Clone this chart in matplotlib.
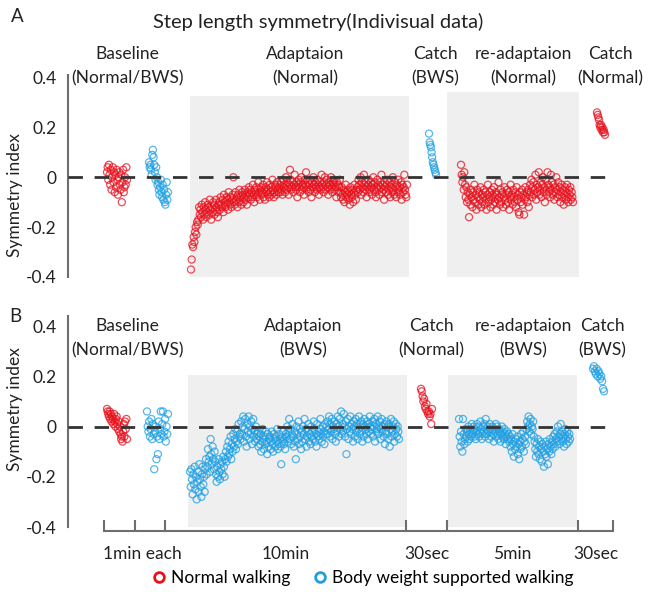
import numpy as np
import matplotlib.pyplot as plt
from matplotlib.lines import Line2D

plt.rcParams['font.family'] = ['Lato', 'DejaVu Sans']

W, H = 648, 594
RED = '#e8101c'
BLUE = '#1e9fe3'
GREY_BG = '#efefef'

# symmetry index per stride (in hundredths)
# ---- panel A: adaptation to normal walking ----
a_base_normal = [2, 4, -1, 5, 1, -3, 3, -5, 0, 4, -2, 2, -6, 1, -4, 3, -1, -7, 0, 2,
                 -3, -5, 1, -10, -2, 3, -6, -4, 0, -3, 4, -1]
a_base_bws = [6, 4, 5, 3, 1, 9, 11, 8, 5, 2, -1, 4, 0, -3, -2, -5, -7, -4, -1, -6,
              -8, -3, -9, -5, -10, -11, -7, -2, -9, -6]
a_adapt = [-37, -33, -27, -28, -24, -26, -22, -20, -23, -18, -19, -17,
           -12, -15, -13, -16, -11, -14, -17, -12, -15, -10, -13, -16, -14, -11, -12,
           -15, -9, -13, -17, -12, -14, -10, -11, -15, -13, -9, -12, -14, -16, -11,
           -10, -13, -8, -11, -12, -9, -14, -7, -10, -12, -11, -8, -9, -13, -6, -10,
           -11, -8, -12, -9, -7, 0, -10, -11, -6, -9, -8, -12, -7, -10, -5, -9, -8,
           -11, -6, -7, -10, -8, -5, -9, -7, -11, -6, -8, -4,
           -7, -5, -9, -6, -8, -3, -7, -10, -5, -6, -4, -8, -7, -2, -6, -9, -5, -4,
           -7, -6, -3, -8, -5, -9, -4, -6, -2, -7, -5, -8, -3, -6, -4, -7, -1, -5,
           -8, -6, -3, -4, -7, -2, -5, -6, -4,
           -3, -6, -2, -5, -7, -1, -4, -3, -6, 0, -5, -2, -4, -7, -3, 3, -1, -5, -4,
           -2, -6, -3, 1, -4, -5, -2, -8, -3, -1, -4, -6, -2, 0, -5, -3, -4, -7, -1,
           -3, 2, -5, -4, -2, -6, -3, -1, -5, -8, -2, -4, 0, -3, -6, -2, -4, -5, -1,
           -3, -7, -4,
           -2, -5, 1, -3, -4, -6, -2, 0, -5, -3, -1, -4, -7, -2, -3, -5, 0, -4, -6,
           -2, -3, -1, -5, -4, -8, -2, -3, -6, -4, -1,
           -6, -8, -4, -7, -9, -5, -10, -6, -3, -8, -7, -5, -9, -6, -11, -4, -7, -8,
           -5, -10, -6, -3, -7, -9, -5,
           -4, -6, -1, -3, -5, 0, -7, -2, -4, -6, 1, -3, -5, -2, -8, -4, -3, -1, -6,
           -5, -2, -4, -7, -3, 0, -5, -2, -6, -8, -4, -1, -3, -5, -7, -2, -4, 1, -6,
           -3, -5, -9, -2, -4, -6, -3, -1, -7, -5, -2, -8, -4, -3, -6, 0, -5, -7, -2,
           -4, -8, -3, -6, -1, -5, -4, -7, -2, -9, -3, -6, -4, 1, -5, -7, -8, -3]
a_catch = [17.5, 14, 13, 12, 10, 8, 6, 5, 4, 3, 2, 1]
a_readapt = [5, 1, -2, 0, -5, 2, -3, -8,
             -4, -10, -6, -9, -16, -7, -11, -5, -8, -12, -6, -9, -3, -10, -7, -13, -5,
             -8, -11, -6, -9, -4, -12, -7, -10, -8, -5, -11, -6, -9, -13, -7, -3, -10,
             -8, -6, -12, -9, -5, -7, -11, -4, -8, -10, -6, -13, -7, -9, -2, -8, -11,
             -5, -10, -7, -6, -12, -8, -4, -9, -11, -7, -5, -10, -6, -13, -8, -3, -9,
             -7, -11, -5, -8, -10, -6, -12, -4, -9, -7, -14, -15, -6, -10, -8, -5, -11,
             -7, -15, -9, -4, -8, -6, -10, -5, -12, -7,
             -3, -6, -1, -8, -4, -2, -7, -5, 1, -9, -3, -6, -4, 2, -7, -5, -2, -8, -3,
             0, -6, -4, -10, -1, -5, -7, 2, -3, -6, -4, -8, 1, -5, -2, -7, -3, -9, -4,
             -6, 0, -5, -8, -2, -7, -4, -10, -6, -3, -8, -5, -11, -7, -4, -9, -6, -3,
             -8, -10, -5, -7, -4, -9, -6, -8, -10]
a_catch2 = [26, 25, 24, 23, 21, 20, 21, 19, 20, 18, 19, 18, 17]

# ---- panel B: adaptation to body weight supported walking ----
b_base_normal = [7, 6, 5, 4, 6, 3, 5, 2, 4, 3, 1, 5, 2, 0, 3, 4, 1, -1, 2, -2,
                 0, -3, -5, -4, -6, -2, 1, -4, 2, -1, 3, -5]
b_base_bws = [6, 0, -2, 2, -4, -1, 3, -5, 1, -3, -17, -2, 0, -13, -4, -11, 2, -5,
              -1, 6, -3, 1, 6, -4, -2, 3, -6, 0, -3, 5]
b_adapt = [-18, -24, -17, -21, -27, -19, -23, -16, -25, -20, -29, -22, -18, -26, -15,
           -21, -24, -28, -19, -16, -23, -20, -26, -17,
           -13, -19, -16, -9, -14, -12, -18, -5, -11, -15, -8, -13, -17, -10, -14,
           -19, -22, -16, -20, -13, -18, -21, -15, -17, -14, -19, -12, -16, -20, -13,
           -10, -14, -8, -12, -6, -11, -9, -4, -13, -7, -10, -3, -8, -5, -1, -9, -6,
           -2, -7, 1, -4, -3, -5,
           2, -3, 0, 4, -6, -1, 3, -4, -8, 1, -2, 4, -5, 0, -3, 2, -7, -1, 3, -4, -2,
           -6, 0, -3,
           -5, -2, -8, -4, -7, -3, -10, -6, -1, -5, -9, -4, -7, -2, -6, -11, -3, -8,
           -5, -4, -9, -6, -2, -7, -10, -3, -5, -8, -4, -6, -1, -9, -7, -3, -5, -8,
           -15, -4, -6, -2, -7, -5, -9, -3,
           -4, 0, -6, -2, 3, -5, -1, -7, -3, 1, -4, -8, -2, -6, -13, 0, -3, -5, 2, -7,
           -1, -4, -9, -2, -6, 0, -3, 3, -5, -1, -8, -4, -2, 1, -6, -3, -7, 0, -4, -2,
           -5, 2, -1, -6, -3, -8, 1, -4, -2, -5, -1, 3, -3, -6, 0, -4, -2, -7, 1, -3,
           0, -3, 2, -1, 4, -4, 1, -2, 3, -5, 0, -1, 2, -3, -6, 1, -2, 4, 0, -4, 3, -1,
           6, -3, 1, -2, 5, 0, -4, 2, -11, -1, 3, -5, 0, -2, 4, -3, 1, -1, -6, 2, 0,
           -4, 3, -2, 1, -5, -1, 4, -3, 0, 2, -2, -6, 1, -4, 3, 0, -1, -3, 2, -5, 1,
           -2, 4, 0, -3, -1, 2, -4, 0, 3, -6, 1, -2, -1, 4, -3, 0, 2, -5, -1, 3, -2, 0,
           -4, 1, -7, -2, 2, -3, 0, -5, 1, -8, -1, 3, -4, -2, 0, 2, -6, -3, 1, -1, -4,
           0, -2, -5]
b_catch = [15, 14, 12, 10, 11, 8, 7, 9, 6, 5, 6, 4, 5, 1, 7]
b_readapt = [3, -4, -8, -2, -6, -10, 3, -3, -7, -5,
             -1, -4, -2, -6, 0, -3, -5, -1, -4, 1, -3, -2, 0, -4, -1, -5, -2, 1, -3, 0,
             -4, -2, 2, -1, -5, -3, 0, -2, 1, -4, 3, -1, -3, 0, -2, -5, 1, -1, -4, -2,
             0, -3, -6, -1, -2, 1, -4, 0, -3, -5, -1, -2, -6, -3, 0, -4, -2, -5, -1,
             -3, -7, -4, -2, -5, -3,
             -6, -4, -8, -5, -10, -3, -7, -12, -6, -9, -5, -8, -4, -11, -7, -13, -6,
             -9, -3, -8, -5, -2, -10, -6, -4, -7,
             -1, 2, 0, 4, -2, 1, 3, -3, 0, -1, 2, -4,
             -6, -9, -12, -7, -10, -5, -11, -8, -13, -6, -9, -14, -7, -10, -16, -8,
             -11, -6, -12, -9, -15, -7, -10, -5, -8, -11,
             -6, -9, -4, -7, -3, -8, -5, -2, -6, 0, -4, -7, -3, 1, -5, -2, -6, -4, -8,
             -3, -1, -5, -7, -2, -4, -6, -3, -5]
b_catch2 = [23, 24, 22, 21, 23, 20, 22, 21, 19, 20, 18, 15, 14]

# phase spans on the shared horizontal scale (x units = pixels of the figure)
phases_a = [(107, 127, a_base_normal, RED), (149, 168, a_base_bws, BLUE),
            (191, 407, a_adapt, RED), (429, 436, a_catch, BLUE),
            (461, 573, a_readapt, RED), (597, 605, a_catch2, RED)]
phases_b = [(107, 127, b_base_normal, RED), (147, 168, b_base_bws, BLUE),
            (190, 399, b_adapt, BLUE), (421, 432, b_catch, RED),
            (459, 570, b_readapt, BLUE), (593, 604, b_catch2, BLUE)]

labels_a = [(127, 'Baseline', '(Normal/BWS)'), (305, 'Adaptaion', '(Normal)'),
            (435, 'Catch', '(BWS)'), (523, 're-adaptaion', '(Normal)'),
            (610, 'Catch', '(Normal)')]
labels_b = [(127, 'Baseline', '(Normal/BWS)'), (303, 'Adaptaion', '(BWS)'),
            (431, 'Catch', '(Normal)'), (523, 're-adaptaion', '(BWS)'),
            (602, 'Catch', '(BWS)')]

time_ticks = [104, 135, 165, 406, 447, 578, 613]
time_label_pos = [142, 286, 427, 512, 596]
time_labels = ['1min each', '10min', '30sec', '5min', '30sec']


def fx(x):
    return x / W


def fy(y):
    return 1 - y / H


def draw_panel(ax, phases, shade, dash_end):
    ax.set_xlim(68, 620)
    for x0, x1, top in shade:
        ax.fill_between([x0, x1], -0.4, top, color=GREY_BG, lw=0, zorder=0)
    for x0, x1, vals, col in phases:
        vals = np.array(vals) / 100.0
        xs = np.linspace(x0, x1, len(vals))
        ax.scatter(xs, vals, s=26, facecolors='none', edgecolors=col,
                   linewidths=0.9, alpha=0.75, zorder=2)
    ax.hlines(0, 68, dash_end, colors='#333333', lw=2.0,
              linestyles=(0, (5.2, 4.2)), zorder=3)
    for s in ['top', 'right', 'bottom']:
        ax.spines[s].set_visible(False)
    ax.spines['left'].set_color('#6e6e6e')
    ax.spines['left'].set_linewidth(1.5)
    ax.set_yticks([-0.4, -0.2, 0, 0.2, 0.4])
    ax.set_yticklabels(['-0.4', '-0.2', '0', '0.2', '0.4'])
    ax.tick_params(axis='y', length=0, pad=8, labelsize=12.5, colors='#222222')
    ax.set_xticks([])
    ax.patch.set_alpha(0)


fig = plt.figure(figsize=(W / 100, H / 100), dpi=100)

ax_a = fig.add_axes([fx(68), fy(277), fx(620) - fx(68), (277 - 75) / H])
ax_a.set_ylim(-0.4, 0.41)
draw_panel(ax_a, phases_a, [(190, 409, 0.325), (447, 579, 0.34)], 608)

ax_b = fig.add_axes([fx(68), fy(527), fx(620) - fx(68), (527 - 316) / H])
ax_b.set_ylim(-0.4, 0.44)
draw_panel(ax_b, phases_b, [(188, 407, 0.205), (448, 577, 0.205)], 610)

# time axis under panel B
ax_b.spines['bottom'].set_visible(True)
ax_b.spines['bottom'].set_position(('outward', 3))
ax_b.spines['bottom'].set_bounds(time_ticks[0], time_ticks[-1])
ax_b.spines['bottom'].set_color('#6e6e6e')
ax_b.spines['bottom'].set_linewidth(1.5)
ax_b.set_xticks(time_ticks)
ax_b.set_xticklabels([''] * len(time_ticks))
ax_b.set_xticks(time_label_pos, minor=True)
ax_b.set_xticklabels(time_labels, minor=True)
ax_b.tick_params(axis='x', which='major', direction='in', length=8,
                 width=1.5, color='#6e6e6e')
ax_b.tick_params(axis='x', which='minor', length=0, pad=11, labelsize=12.5,
                 colors='#222222')

# texts
fig.text(fx(17), fy(17), 'A', fontsize=13.5, ha='center', va='center', color='#222222')
fig.text(fx(15), fy(316), 'B', fontsize=13.5, ha='center', va='center', color='#222222')
fig.text(fx(318), fy(22), 'Step length symmetry(Indivisual data)', fontsize=14.5,
         ha='center', va='center', color='#222222')
for yl in [195, 409]:
    fig.text(fx(15), fy(yl), 'Symmetry index', rotation=90, fontsize=12.5,
             ha='center', va='center', color='#222222')
for labs, y1, y2 in [(labels_a, 54, 78), (labels_b, 326, 350)]:
    for xc, l1, l2 in labs:
        fig.text(fx(xc), fy(y1), l1, fontsize=12.5, ha='center', va='center', color='#222222')
        fig.text(fx(xc), fy(y2), l2, fontsize=12.5, ha='center', va='center', color='#222222')

handles = [Line2D([], [], ls='none', marker='o', ms=7, mfc='none', mec=RED, mew=2),
           Line2D([], [], ls='none', marker='o', ms=7, mfc='none', mec=BLUE, mew=2)]
fig.legend(handles, ['Normal walking', 'Body weight supported walking'], ncol=2,
           loc='center', bbox_to_anchor=(fx(362), fy(578)), frameon=False,
           fontsize=12.5, handletextpad=0.2, columnspacing=1.2, handlelength=1.0)

fig.savefig('out.png', dpi=100)
